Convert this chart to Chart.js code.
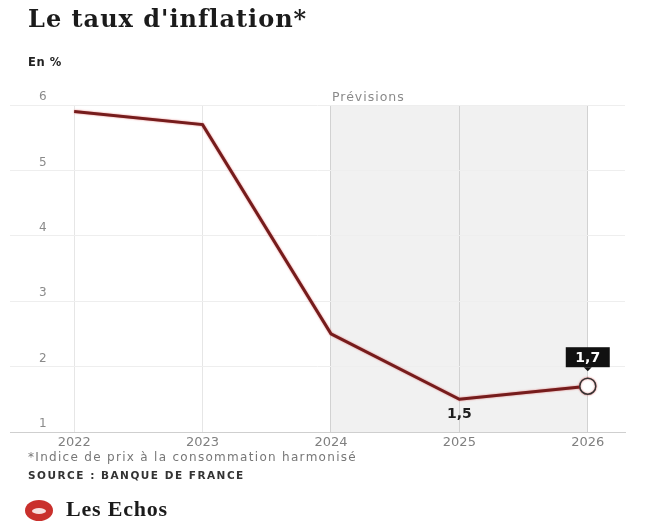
<!DOCTYPE html>
<html lang="fr">
<head>
<meta charset="utf-8">
<script src="https://cdn.jsdelivr.net/npm/chart.js@4/dist/chart.umd.min.js"></script>
<style>
  html, body { margin: 0; padding: 0; background: #fff; }
  #wrap { position: relative; width: 646px; height: 525px; overflow: hidden; font-family: "DejaVu Sans", sans-serif; }
  #chart { position: absolute; left: 0; top: 0; }
  .t { position: absolute; white-space: nowrap; }
  #title { left: 28px; top: 4px; font-family: "DejaVu Serif", serif; font-weight: bold; font-size: 24px; color: #1b1b1b; letter-spacing: 1px; }
  #unit { left: 28px; top: 55px; font-weight: bold; font-size: 11.5px; color: #222; letter-spacing: 0.6px; }
  #note { left: 28px; top: 450px; font-size: 12px; color: #777; letter-spacing: 1.3px; }
  #source { left: 28px; top: 469px; font-weight: bold; font-size: 10.5px; color: #333; letter-spacing: 1.5px; }
  #logo { left: 25px; top: 500px; width: 28px; height: 21px; border-radius: 50%; background: #c9302c; }
  #logo::after { content: ""; position: absolute; left: 7px; top: 8px; width: 14px; height: 6px; border-radius: 50%; background: #fff; opacity: 0.85; }
  #brand { left: 66px; top: 496px; font-family: "Liberation Serif", serif; font-weight: bold; font-size: 22px; color: #1b1b1b; letter-spacing: 0.8px; }
</style>
</head>
<body>
<div id="wrap">
  <canvas id="chart" width="646" height="525"></canvas>
  <div class="t" id="title">Le taux d'inflation*</div>
  <div class="t" id="unit">En %</div>
  <div class="t" id="note">*Indice de prix à la consommation harmonisé</div>
  <div class="t" id="source">SOURCE : BANQUE DE FRANCE</div>
  <div class="t" id="logo"></div>
  <div class="t" id="brand">Les Echos</div>
</div>
<script>
// ---- data ----
const years = [2022, 2023, 2024, 2025, 2026];
const inflation = [5.9, 5.7, 2.5, 1.5, 1.7];
const yTicks = [1, 2, 3, 4, 5, 6];
const forecastStart = 2024;
const forecastEnd = 2026;
const forecastLabel = "Prévisions";
const labelledYears = [2025, 2026];

const fmt = v => String(v).replace('.', ',');

const forecastPlugin = {
  id: 'forecast',
  beforeDraw(chart) {
    const { ctx, chartArea, scales: { x } } = chart;
    const x0 = x.getPixelForValue(forecastStart);
    const x1 = x.getPixelForValue(forecastEnd);
    ctx.save();
    ctx.fillStyle = '#f1f1f1';
    ctx.fillRect(x0, chartArea.top, x1 - x0, chartArea.bottom - chartArea.top);
    ctx.fillStyle = '#8a8a8a';
    ctx.font = '12.5px "DejaVu Sans", sans-serif';
    ctx.letterSpacing = '1px';
    ctx.textAlign = 'left';
    ctx.textBaseline = 'middle';
    ctx.fillText(forecastLabel, x0 + 1, chartArea.top - 7);
    ctx.restore();
  },
  beforeDatasetDraw(chart) {
    const ctx = chart.ctx;
    ctx.save();
    ctx.shadowColor = 'rgba(210,40,40,0.6)';
    ctx.shadowBlur = 2;
  },
  afterDatasetDraw(chart) {
    chart.ctx.restore();
  },
  afterDatasetsDraw(chart) {
    const { ctx, scales: { x, y } } = chart;
    ctx.save();
    // 2025 label below the point
    {
      const i = years.indexOf(labelledYears[0]);
      const px = x.getPixelForValue(years[i]);
      const py = y.getPixelForValue(inflation[i]);
      ctx.fillStyle = '#1e1e1e';
      ctx.font = 'bold 14px "DejaVu Sans", sans-serif';
      ctx.textAlign = 'center';
      ctx.textBaseline = 'middle';
      ctx.fillText(fmt(inflation[i]), px, py + 15);
    }
    // 2026 label in black box above the point
    {
      const i = years.indexOf(labelledYears[1]);
      const px = x.getPixelForValue(years[i]);
      const py = y.getPixelForValue(inflation[i]);
      const w = 44, h = 20;
      const bx = px - w / 2, by = py - 39;
      ctx.fillStyle = '#111';
      ctx.fillRect(bx, by, w, h);
      ctx.beginPath();
      ctx.moveTo(px - 4, by + h);
      ctx.lineTo(px + 4, by + h);
      ctx.lineTo(px, by + h + 4);
      ctx.closePath();
      ctx.fill();
      ctx.fillStyle = '#fff';
      ctx.font = 'bold 14px "DejaVu Sans", sans-serif';
      ctx.textAlign = 'center';
      ctx.textBaseline = 'middle';
      ctx.fillText(fmt(inflation[i]), px, by + h / 2 + 1);
    }
    ctx.restore();
  }
};

new Chart(document.getElementById('chart'), {
  type: 'line',
  data: {
    datasets: [{
      data: years.map((yr, i) => ({ x: yr, y: inflation[i] })),
      borderColor: '#751c1c',
      borderWidth: 3,
      tension: 0,
      pointRadius: ctx => ctx.dataIndex === years.length - 1 ? 8 : 0,
      pointHoverRadius: ctx => ctx.dataIndex === years.length - 1 ? 8 : 0,
      pointBackgroundColor: '#fff',
      pointBorderColor: '#333',
      pointBorderWidth: 1.5
    }]
  },
  options: {
    responsive: false,
    animation: false,
    events: [],
    layout: { padding: { left: 10, right: 21, top: 105, bottom: 73 } },
    plugins: { legend: { display: false }, tooltip: { enabled: false } },
    scales: {
      x: {
        type: 'linear',
        min: 2021.5,
        max: 2026.29,
        afterBuildTicks: s => { s.ticks = years.map(v => ({ value: v })); },
        afterFit: s => { s.height = 20; },
        grid: {
          color: c => (c.tick && c.tick.value >= forecastStart) ? '#d2d2d2' : '#e6e6e6',
          lineWidth: 1,
          drawTicks: false
        },
        border: { display: true, color: '#cfcfcf', width: 1 },
        ticks: {
          color: '#808080',
          font: { family: '"DejaVu Sans", sans-serif', size: 13 },
          padding: 3,
          maxRotation: 0,
          callback: v => String(v)
        }
      },
      y: {
        min: 1,
        max: 6,
        afterBuildTicks: s => { s.ticks = yTicks.map(v => ({ value: v })); },
        afterFit: s => { s.width = 0; },
        grid: { color: '#eeeeee', lineWidth: 1, drawTicks: false },
        border: { display: false },
        ticks: {
          mirror: true,
          padding: 29,
          labelOffset: -8,
          color: '#8a8a8a',
          font: { family: '"DejaVu Sans", sans-serif', size: 12 },
          callback: v => String(v)
        }
      }
    }
  },
  plugins: [forecastPlugin]
});
</script>
</body>
</html>
